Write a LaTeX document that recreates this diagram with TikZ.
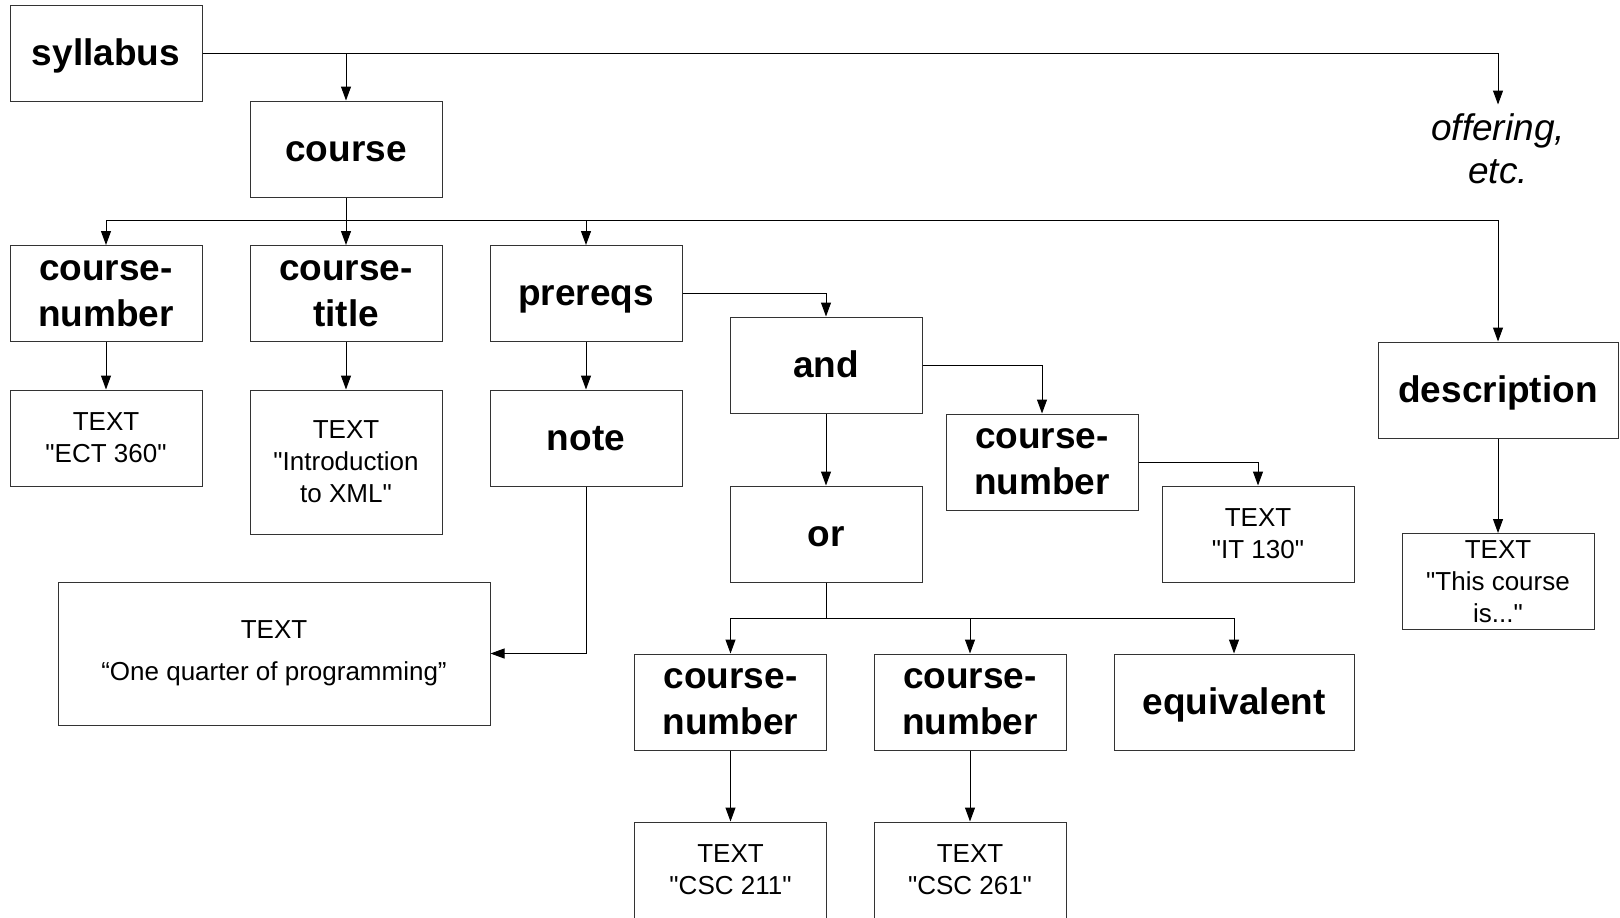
\documentclass[tikz,border=0pt]{standalone}
\usepackage{fontspec}
\setmainfont{Liberation Sans}[Ligatures=TeXOff]
\usetikzlibrary{arrows.meta}
\tikzset{
  box/.style={draw=black!80, line width=0.5pt, minimum width=96pt, minimum height=48pt, inner sep=0pt, align=center},
  bold/.style={font=\fontsize{18.5}{23}\selectfont\bfseries},
  boldone/.style={bold, text height=16pt, text depth=4pt},
  reg/.style={font=\fontsize{13}{16}\selectfont},
  conn/.style={line width=0.5pt, black},
  arr/.style={conn, -{Triangle[length=7pt,width=5pt]}}
}
\begin{document}
\begin{tikzpicture}[x=0.5pt,y=-0.5pt]
\useasboundingbox (0,0) rectangle (1620,917);
% nodes
\node[box,boldone] (syl) at (106,53) {syllabus};
\node[box,boldone] (course) at (346,149) {course};
\node[font=\fontsize{18.5}{21.5}\selectfont\itshape, align=center, inner sep=4.5pt] (off) at (1498,149) {offering,\\etc.};
\node[box,bold] (cn1) at (106,293.5) {course-\\number};
\node[box,bold] (ct) at (346,293.5) {course-\\title};
\node[box,boldone] (pre) at (586,293.5) {prereqs};
\node[box,reg] (ect) at (106,438) {TEXT\\"ECT 360"};
\node[box,reg,minimum height=72pt] (intro) at (346,462) {TEXT\\"Introduction\\to XML"};
\node[box,boldone] (note) at (586,438) {note};
\node[box,font=\fontsize{13}{21}\selectfont,minimum width=216pt,minimum height=71.5pt] (oneq) at (274,653.5) {TEXT\\“One quarter of programming”};
\node[box,boldone] (and) at (826,365) {and};
\node[box,bold] (cn2) at (1042,462) {course-\\number};
\node[box,reg] (it) at (1258,534) {TEXT\\"IT 130"};
\node[box,boldone,minimum width=120pt] (desc) at (1498,390) {description};
\node[box,reg] (this) at (1498,581.5) {TEXT\\"This course\\is..."};
\node[box,boldone] (or) at (826,534) {or};
\node[box,bold] (cn3) at (730.5,702) {course-\\number};
\node[box,bold] (cn4) at (970,702) {course-\\number};
\node[box,boldone,minimum width=120pt] (eq) at (1234,702) {equivalent};
\node[box,reg] (c211) at (730.5,870) {TEXT\\"CSC 211"};
\node[box,reg] (c261) at (970,870) {TEXT\\"CSC 261"};
% junctions
\coordinate (cbus) at (346,220);
\coordinate (obus) at (826,618);
% connectors
\draw[arr] (syl.east) -| (off.north);
\draw[arr] (syl.east) -| (course.north);
\draw[conn] (course.south) -- (cbus);
\draw[arr] (cbus) -| (cn1.north);
\draw[arr] (cbus) -- (ct.north);
\draw[arr] (cbus) -| (pre.north);
\draw[arr] (cbus) -| (desc.north);
\draw[arr] (cn1.south) -- (ect.north);
\draw[arr] (ct.south) -- (intro.north);
\draw[arr] (pre.south) -- (note.north);
\draw[arr] (note.south) |- (oneq.east);
\draw[arr] (pre.east) -| (and.north);
\draw[arr] (and.south) -- (or.north);
\draw[arr] (and.east) -| (cn2.north);
\draw[arr] (cn2.east) -| (it.north);
\draw[arr] (desc.south) -- (this.north);
\draw[conn] (or.south) -- (obus);
\draw[arr] (obus) -| (cn3.north);
\draw[arr] (obus) -| (cn4.north);
\draw[arr] (obus) -| (eq.north);
\draw[arr] (cn3.south) -- (c211.north);
\draw[arr] (cn4.south) -- (c261.north);
\end{tikzpicture}
\end{document}
